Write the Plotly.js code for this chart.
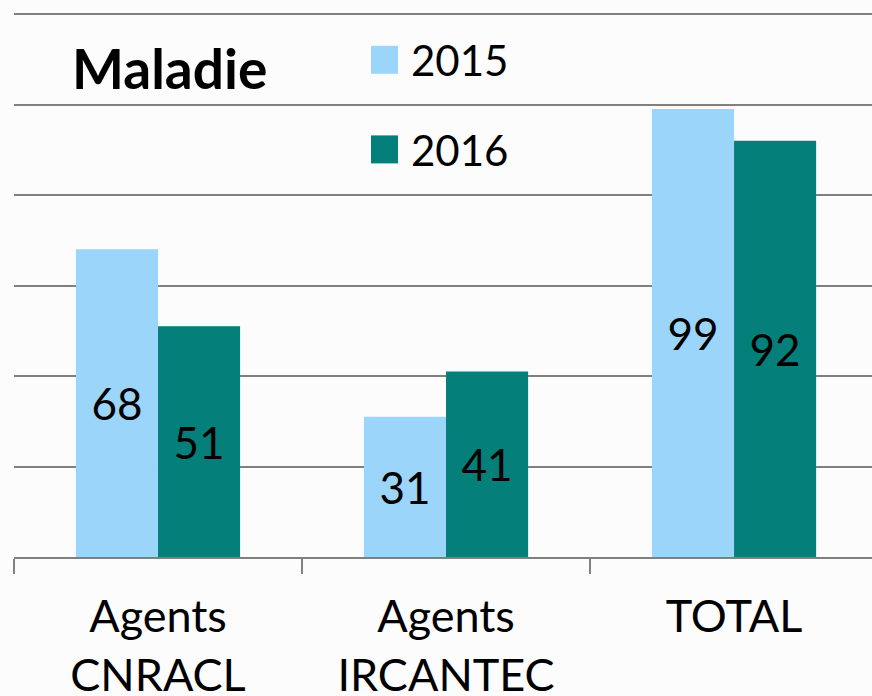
<!DOCTYPE html>
<html><head><meta charset="utf-8">
<script src="https://cdn.plot.ly/plotly-3.0.1.min.js"></script>
<style>body{margin:0;background:#fcfcfc}</style>
</head><body><div id="chart" style="width:872px;height:696px"></div>
<script>
const categories = ['Agents<br>CNRACL', 'Agents<br>IRCANTEC', 'TOTAL'];
const seriesNames = ['2015', '2016'];
const values2015 = [68, 31, 99];
const values2016 = [51, 41, 92];
const chartTitle = 'Maladie';

const colors = ['#9BD5F9', '#047F79'];
const FONT = 'Lato, "Open Sans", sans-serif';

const traces = [values2015, values2016].map((v, i) => ({
  type: 'bar', x: categories, y: v, name: seriesNames[i],
  marker: {color: colors[i]},
  text: v.map(String), textposition: 'inside', insidetextanchor: 'middle',
  textfont: {color: '#000', size: 44, family: FONT},
  legendgroup: 'g' + i, hoverinfo: 'none'
}));

const layout = {
  width: 872, height: 696,
  margin: {l: 14, r: 0, t: 5, b: 139},
  paper_bgcolor: '#fcfcfc', plot_bgcolor: 'rgba(0,0,0,0)',
  barmode: 'group', bargap: 0.43, bargroupgap: 0,
  font: {family: FONT, color: '#000'},
  xaxis: {type: 'category', range: [-0.5, 2.479], tickson: 'boundaries',
    ticks: 'outside', ticklen: 15, tickwidth: 2, tickcolor: '#808080',
    showline: true, linecolor: '#808080', linewidth: 2, showgrid: false,
    ticklabelstandoff: 19,
    tickfont: {size: 45, family: FONT, color: '#000'}, fixedrange: true},
  yaxis: {range: [0, 122], dtick: 20, showgrid: true, gridcolor: '#808080', gridwidth: 2,
    showticklabels: false, zeroline: false, ticks: '', fixedrange: true},
  showlegend: true,
  legend: {x: 0.4161, y: (557 - 26) / 552, xanchor: 'left', yanchor: 'top', traceorder: 'grouped',
    tracegroupgap: 32, font: {size: 42, family: FONT, color: '#000'}, bgcolor: 'rgba(0,0,0,0)'},
  annotations: [{text: '<b>' + chartTitle + '</b>', xref: 'paper', yref: 'paper',
    x: (70 - 14) / 858, y: (557 - 68) / 552, xanchor: 'left', yanchor: 'middle',
    showarrow: false, font: {size: 55, family: FONT, color: '#000'}}]
};

Plotly.newPlot('chart', traces, layout, {displayModeBar: false, staticPlot: true}).then(() => {
  document.querySelectorAll('.legendpoints path').forEach(p => p.setAttribute('d', 'M7,14H-21V-14H7Z'));
});
</script></body></html>
